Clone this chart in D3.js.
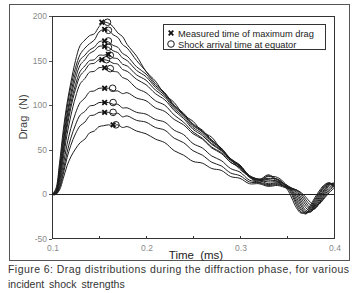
<!DOCTYPE html>
<html><head><meta charset="utf-8">
<script src="https://cdn.jsdelivr.net/npm/d3@7"></script>
<style>
html,body{margin:0;padding:0;background:#fff;}
svg{display:block;font-family:"Liberation Sans",Arial,sans-serif;}
</style></head>
<body>
<svg id="chart" width="357" height="293"></svg>
<script>
// time grid (ms)
const time = [0.100,0.104,0.108,0.112,0.116,0.120,0.125,0.130,0.135,0.140,0.145,0.150,0.155,0.160,0.165,0.170,0.175,0.180,
  0.190,0.200,0.210,0.220,0.230,0.240,0.250,0.260,0.270,0.280,0.290,0.300,0.310,0.320,0.330,0.340,0.350,
  0.355,0.360,0.365,0.370,0.375,0.380,0.385,0.390,0.395,0.400];
// drag (N) for each incident shock strength
const drag1 = [0,6,35,72,102,125,150,167,173,178,180,188,193,192,188,181,177,168,
  155,138,127,112,103,89,82,70,64,50,40,28,20,13,21,14,6,
  -4,-15,-21,-19,-12,-3,5,11,13,8];
const drag2 = [0,4,30,66,97,120,142,157,164,169,173,182,185,184,179,176,168,164,
  150,138,124,114,100,91,79,72,61,52,39,31,19,15,17,17,8,
  0,-12,-20,-21,-14,-5,3,10,12,9];
const drag3 = [0,3,26,60,90,113,136,151,156,162,165,171,172,171,167,165,158,155,
  143,135,122,113,99,90,78,71,60,52,40,32,20,16,22,16,9,
  2,-9,-18,-22,-16,-7,2,9,13,10];
const drag4 = [0,3,24,56,86,108,130,145,151,158,161,166,166,165,161,159,153,150,
  139,132,120,111,98,89,77,70,59,51,40,33,21,17,20,19,10,
  4,-6,-16,-21,-18,-9,0,8,12,11];
const drag5 = [0,2,20,50,80,102,123,138,144,150,151,156,156,157,153,152,146,144,
  134,128,117,109,96,87,75,68,57,50,39,32,21,17,18,17,9,
  5,-3,-13,-20,-19,-11,-2,6,12,12];
const drag6 = [0,2,18,46,75,97,118,133,139,146,147,151,151,150,147,146,140,138,
  129,123,113,106,94,85,73,66,56,49,38,32,21,17,16,15,10,
  6,0,-10,-18,-20,-13,-4,5,11,13];
const drag7 = [0,1,15,40,67,88,109,124,130,137,138,142,142,141,138,137,131,129,
  119,114,105,100,89,81,70,63,53,47,36,30,20,16,14,14,10,
  7,2,-7,-15,-19,-15,-6,3,10,12];
const drag8 = [0,1,12,33,56,74,91,103,108,115,116,119,119,119,116,116,113,114,
  108,105,97,93,84,78,68,62,52,46,36,30,20,16,12,13,9,
  7,4,-4,-12,-17,-16,-8,1,8,11];
const drag9 = [0,0,9,27,47,63,78,89,93,99,100,103,103,103,101,101,97,97,
  92,90,84,81,72,67,57,52,43,38,29,25,16,14,11,12,8,
  7,5,-1,-9,-15,-15,-9,-1,6,10];
const drag10 = [0,0,7,23,41,55,68,77,81,88,89,92,92,92,90,91,87,88,
  83,81,75,72,63,58,49,44,36,32,24,21,14,13,10,11,8,
  6,5,1,-6,-12,-14,-10,-3,4,9];
const drag11 = [0,0,5,18,32,42,51,58,62,69,71,76,77,78,77,78,75,76,
  71,68,62,58,49,44,37,35,29,27,20,18,12,12,9,10,7,
  6,5,2,-3,-9,-12,-10,-4,2,7];

// markers
const maxDragT = [0.153,0.156,0.156,0.156,0.160,0.153,0.156,0.156,0.156,0.156,0.165];
const maxDragV = [193,185,172,166,157,151,142,119,103,92,78];
const arrivalT = [0.159,0.160,0.160,0.160,0.162,0.158,0.162,0.1645,0.165,0.165,0.168];
const arrivalV = [193,184,172,165,156,151,141,119,103,92,78];

const yTicks = [-50,0,50,100,150,200];
const xTicks = [0.1,0.15,0.2,0.25,0.3,0.35,0.4];
const xLabels = [0.1,0.2,0.3,0.4];
const legendItems = ["Measured time of maximum drag","Shock arrival time at equator"];
const caption = ["Figure 6: Drag distributions during the diffraction phase, for various","incident shock strengths"];

const series = [drag1,drag2,drag3,drag4,drag5,drag6,drag7,drag8,drag9,drag10,drag11];

const svg = d3.select("#chart");
const x = d3.scaleLinear().domain([0.1,0.4]).range([52,334]);
const y = d3.scaleLinear().domain([-50,200]).range([239,16]);

// outer frame
svg.append("rect").attr("x",9.5).attr("y",4.5).attr("width",340).attr("height",256)
  .attr("fill","none").attr("stroke","#555").attr("stroke-width",1);
// plot box
svg.append("rect").attr("x",52.5).attr("y",16.5).attr("width",282).attr("height",222)
  .attr("fill","none").attr("stroke","#333").attr("stroke-width",1);

// y ticks & labels
const yg = svg.append("g");
yTicks.forEach(v=>{
  yg.append("line").attr("x1",49).attr("x2",52).attr("y1",Math.round(y(v))+0.5).attr("y2",Math.round(y(v))+0.5)
    .attr("stroke","#555");
  yg.append("text").attr("x",47).attr("y",y(v)+3).attr("text-anchor","end")
    .attr("font-size",8.5).attr("fill","#8a8a8a").text(v);
});
// x ticks (inside) & labels
xTicks.forEach(v=>{
  svg.append("line").attr("x1",Math.round(x(v))+0.5).attr("x2",Math.round(x(v))+0.5).attr("y1",236).attr("y2",239)
    .attr("stroke","#333");
});
xLabels.forEach(v=>{
  svg.append("text").attr("x",x(v)+1).attr("y",251).attr("text-anchor","middle")
    .attr("font-size",8.5).attr("fill","#8a8a8a").text(d3.format(".1f")(v));
});

// zero line
svg.append("line").attr("x1",x(0.1)).attr("x2",x(0.4)).attr("y1",Math.round(y(0))+0.5).attr("y2",Math.round(y(0))+0.5)
  .attr("stroke","#222").attr("stroke-width",1);

// axis titles
svg.append("text").attr("x",196).attr("y",259).attr("text-anchor","middle")
  .attr("font-size",11.5).attr("fill","#222").attr("word-spacing","3px").text("Time (ms)");
svg.append("text").attr("transform","translate(27,117) rotate(-90)").attr("text-anchor","middle")
  .attr("font-size",11).attr("fill","#444").attr("word-spacing","3px").text("Drag (N)");

// curves
const line = d3.line().x((d,i)=>x(time[i])).y(d=>y(d)).curve(d3.curveCatmullRom.alpha(0.5));
svg.append("g").selectAll("path").data(series).join("path")
  .attr("d",d=>line(d)).attr("fill","none").attr("stroke","#1e1e1e").attr("stroke-width",1);

// markers
const crossPath = (cx,cy,s)=>`M${cx-s},${cy-s}L${cx+s},${cy+s}M${cx-s},${cy+s}L${cx+s},${cy-s}`;
svg.append("g").selectAll("circle").data(arrivalT).join("circle")
  .attr("cx",(d)=>x(d)).attr("cy",(d,i)=>y(arrivalV[i])).attr("r",3.3)
  .attr("fill","none").attr("stroke","#1e1e1e").attr("stroke-width",1);
svg.append("g").selectAll("path").data(maxDragT).join("path")
  .attr("d",(d,i)=>crossPath(x(d),y(maxDragV[i]),2.3))
  .attr("stroke","#111").attr("stroke-width",1.8).attr("fill","none");

// legend
svg.append("rect").attr("x",163.5).attr("y",24.5).attr("width",162).attr("height",25)
  .attr("fill","#fff").attr("stroke","#333").attr("stroke-width",1);
svg.append("path").attr("d",crossPath(171,33,2.3)).attr("stroke","#111").attr("stroke-width",1.8);
svg.append("circle").attr("cx",171).attr("cy",44).attr("r",3.3).attr("fill","none").attr("stroke","#1e1e1e");
legendItems.forEach((t,i)=>{
  svg.append("text").attr("x",178).attr("y",36.5+i*11).attr("font-size",9.3).attr("fill","#222").text(t);
});

// caption
svg.append("text").attr("x",8).attr("y",273).attr("font-size",10.5).attr("fill","#333")
  .attr("textLength",341).attr("lengthAdjust","spacing").text(caption[0]);
svg.append("text").attr("x",8).attr("y",288).attr("font-size",10.5).attr("fill","#333")
  .attr("word-spacing","2px").text(caption[1]);
</script>
</body></html>
